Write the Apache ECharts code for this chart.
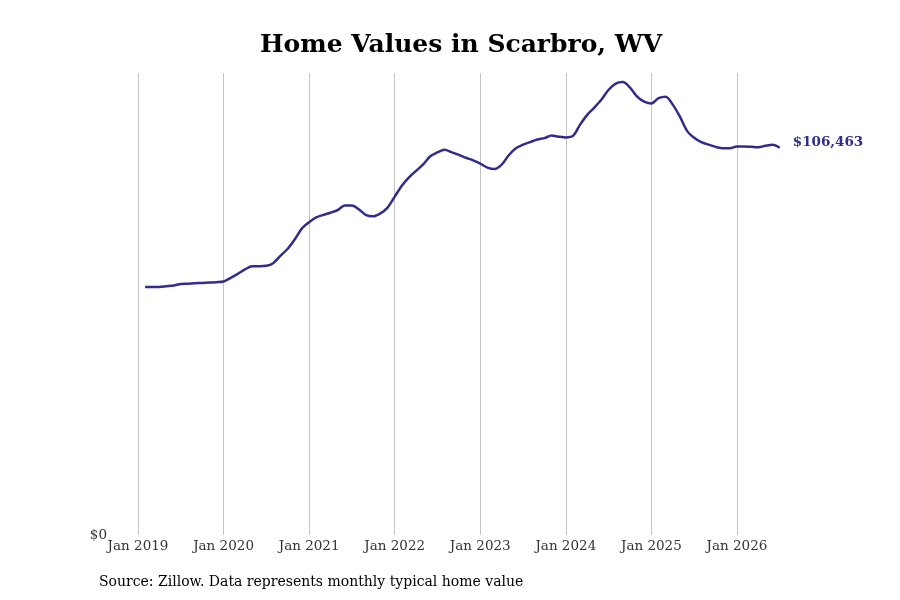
<!DOCTYPE html>
<html>
<head>
<meta charset="utf-8">
<script src="https://cdn.jsdelivr.net/npm/echarts@6/dist/echarts.min.js"></script>
<style>
html, body { margin: 0; padding: 0; background: #fff; }
#chart { width: 900px; height: 600px; }
</style>
</head>
<body>
<div id="chart"></div>
<script>
// months counted from Jan 2019 (0 = Jan 2019), data starts Feb 2019
var startMonth = 1;
var homeValues = [
	68200, 68200, 68200, 68400, 68600, 69000, 69100, 69200, 69300, 69400, 69500,
	69700, 70700, 71800, 73000, 73900, 73900, 74000, 74800, 76800, 78700, 81300, 84300,
	86000, 87300, 88000, 88600, 89300, 90600, 90600, 89500, 87900, 87600, 88400, 90000,
	93000, 96000, 98300, 100100, 101900, 104100, 105200, 105900, 105200, 104500, 103700, 103000,
	102100, 101000, 100600, 101800, 104400, 106300, 107300, 108000, 108700, 109100, 109800, 109500,
	109300, 109700, 112800, 115500, 117500, 119700, 122400, 124100, 124500, 123000, 120500, 119100,
	118600, 120100, 120500, 118300, 115000, 111100, 109200, 108000, 107300, 106700, 106300, 106300,
	106800, 106800, 106700, 106600, 107000, 107300, 106463
];
var yearTicks = [0, 12, 24, 36, 48, 60, 72, 84];
var yearNames = ['2019', '2020', '2021', '2022', '2023', '2024', '2025', '2026'];
var lastLabel = '$106,463';

var seriesData = [];
for (var i = 0; i < homeValues.length; i++) {
	seriesData.push([startMonth + i, homeValues[i]]);
}
var gridLines = [];
for (var j = 0; j < yearTicks.length; j++) {
	gridLines.push({ xAxis: yearTicks[j] });
}

var myChart = echarts.init(document.getElementById('chart'));
var options = {
	backgroundColor: '#ffffff',
	animation: false,
	title: {
		text: 'Home Values in Scarbro, WV',
		left: 255,
		top: 28,
		textStyle: {
			fontFamily: 'DejaVu Serif',
			fontWeight: 'bold',
			fontSize: 25,
			color: '#000'
		}
	},
	graphic: [{
		type: 'text',
		left: 99,
		top: 575,
		style: {
			text: 'Source: Zillow. Data represents monthly typical home value',
			font: '14px "DejaVu Serif"',
			fill: '#000'
		}
	}],
	grid: { left: 138, right: 106, top: 73, bottom: 65 },
	xAxis: {
		type: 'value',
		min: 0,
		max: 92,
		interval: 12,
		axisLine: { show: false },
		axisTick: { show: false },
		splitLine: { show: false },
		axisLabel: {
			margin: 4,
			fontFamily: 'DejaVu Serif',
			fontSize: 13.5,
			color: '#333',
			formatter: function(v) {
				var k = yearTicks.indexOf(v);
				return k >= 0 ? 'Jan ' + yearNames[k] : '';
			}
		}
	},
	yAxis: {
		type: 'value',
		min: 0,
		max: 127000,
		interval: 127000,
		axisLine: { show: false },
		axisTick: { show: false },
		splitLine: { show: false },
		axisLabel: {
			margin: 31,
			fontFamily: 'DejaVu Serif',
			fontSize: 13.5,
			color: '#333',
			formatter: function(v) {
				return v === 0 ? '$0' : '';
			}
		}
	},
	series: [{
		type: 'line',
		data: seriesData,
		showSymbol: false,
		smooth: 0.3,
		lineStyle: { color: '#302d8c', width: 2.5 },
		itemStyle: { color: '#302d8c' },
		endLabel: {
			show: true,
			distance: 13,
			formatter: function() { return lastLabel; },
			fontFamily: 'DejaVu Serif',
			fontWeight: 'bold',
			fontSize: 13.5,
			color: '#302d8c',
			offset: [0, -5]
		},
		markLine: {
			silent: true,
			symbol: 'none',
			label: { show: false },
			lineStyle: { color: '#c4c4c4', width: 1, type: 'solid' },
			data: gridLines,
			z: 1
		},
		z: 3
	}]
};
myChart.setOption(options);
</script>
</body>
</html>
